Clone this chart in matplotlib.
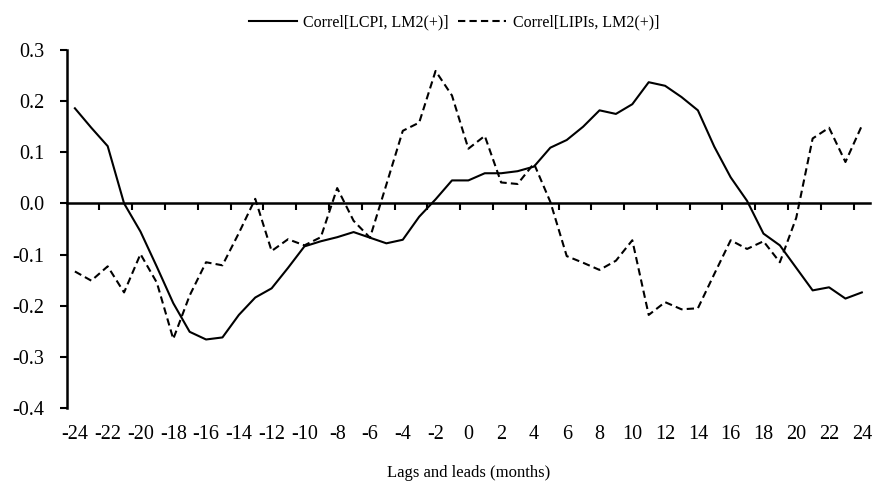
import matplotlib
matplotlib.use("Agg")
import matplotlib.pyplot as plt
import numpy as np

plt.rc("font", family="Liberation Serif", size=12)

lags = list(range(-24, 25))

lcpi = [0.186, 0.148, 0.112, 0.0, -0.055, -0.124, -0.195, -0.251, -0.266, -0.262,
        -0.218, -0.184, -0.166, -0.126, -0.084, -0.074, -0.066, -0.056, -0.067, -0.078,
        -0.071, -0.026, 0.008, 0.045, 0.045, 0.059, 0.059, 0.063, 0.072, 0.109,
        0.124, 0.150, 0.182, 0.175, 0.194, 0.237, 0.230, 0.208, 0.182, 0.111,
        0.051, 0.005, -0.059, -0.082, -0.126, -0.170, -0.164, -0.186, -0.174]

lipis = [-0.133, -0.151, -0.123, -0.174, -0.099, -0.155, -0.265, -0.180, -0.115, -0.121,
         -0.058, 0.009, -0.093, -0.070, -0.082, -0.066, 0.030, -0.034, -0.067, 0.037,
         0.142, 0.158, 0.259, 0.211, 0.107, 0.132, 0.041, 0.038, 0.078, 0.003,
         -0.103, -0.116, -0.130, -0.112, -0.072, -0.218, -0.193, -0.207, -0.205, -0.138,
         -0.072, -0.089, -0.074, -0.115, -0.028, 0.127, 0.148, 0.081, 0.152]

y_ticks = [0.3, 0.2, 0.1, 0.0, -0.1, -0.2, -0.3, -0.4]

fig = plt.figure(figsize=(8.73, 4.91), dpi=100)
ax = fig.add_axes([0.0764, 0.169, 0.9202, 0.7292])

x = np.arange(len(lags))
ax.plot(x, lcpi, color="black", linewidth=1.5, label="Correl[LCPI, LM2(+)]")
ax.plot(x, lipis, color="black", linewidth=1.5, linestyle=(0, (3.5, 2)),
        label="Correl[LIPIs, LM2(+)]")

ax.set_xlim(-0.5, len(lags) - 0.5)
ax.set_ylim(-0.4, 0.3)

# y axis
ax.set_yticks(y_ticks)
ax.set_yticklabels([f"{v:.1f}" for v in y_ticks])
ax.tick_params(axis="y", direction="out", length=5, width=1.5, pad=11, labelsize=14.5)
ax.spines["left"].set_linewidth(1.8)

# zero line acts as the category axis, ticks between categories every 2
ax.spines["bottom"].set_position(("data", 0))
ax.spines["bottom"].set_linewidth(1.8)
ax.spines["top"].set_visible(False)
ax.spines["right"].set_visible(False)
ax.set_xticks(np.arange(1.5, len(lags) - 1, 2))
ax.set_xticklabels([])
ax.tick_params(axis="x", direction="out", length=5, width=1.5)

# category labels at the bottom of the plot
sec = ax.secondary_xaxis("bottom")
sec.spines["bottom"].set_visible(False)
sec.set_xticks(x[::2])
sec.set_xticklabels([str(v) for v in lags[::2]])
sec.tick_params(length=0, pad=12, labelsize=14.5)
sec.set_xlabel("Lags and leads (months)", labelpad=15)

fig.legend(loc="upper center", bbox_to_anchor=(0.52, 1.0), ncol=2, frameon=False,
           fontsize=11.5, handlelength=3.0, columnspacing=0.6, handletextpad=0.4)

fig.savefig("out.png", dpi=100)
